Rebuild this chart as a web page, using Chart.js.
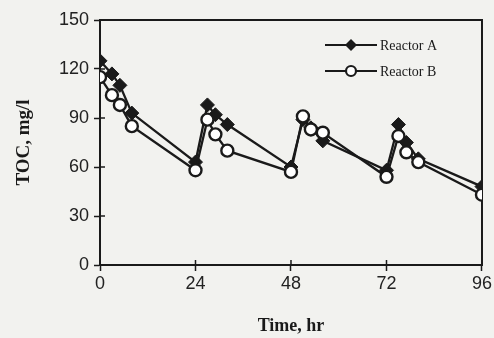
<!DOCTYPE html>
<html>
<head>
<meta charset="utf-8">
<script src="https://cdn.jsdelivr.net/npm/chart.js@4.4.0/dist/chart.umd.min.js"></script>
<style>
  html, body { margin: 0; padding: 0; background: #f2f2ef; }
  #wrap { width: 494px; height: 338px; position: relative; }
</style>
</head>
<body>
<div id="wrap"><canvas id="c" width="494" height="338"></canvas></div>
<script>
// ---- data ----
const times = [0, 3, 5, 8, 24, 27, 29, 32, 48, 51, 53, 56, 72, 75, 77, 80, 96];
const reactorA = [125, 117, 110, 93, 63, 98, 92, 86, 60, 89, 84, 76, 58, 86, 75, 65, 48];
const reactorB = [115, 104, 98, 85, 58, 89, 80, 70, 57, 91, 83, 81, 54, 79, 69, 63, 43];
const seriesNames = ['Reactor A', 'Reactor B'];
const xTicks = [0, 24, 48, 72, 96];
const yTicks = [0, 30, 60, 90, 120, 150];

const ink = '#1a1a1a';
const paper = '#f2f2ef';

function pts(xs, ys) { return xs.map((x, i) => ({ x: x, y: ys[i] })); }

const framePlugin = {
  id: 'frame',
  beforeDatasetsDraw(chart) {
    const { ctx, chartArea: a, scales } = chart;
    ctx.save();
    ctx.strokeStyle = ink;
    ctx.lineWidth = 2;
    ctx.strokeRect(a.left, a.top, a.right - a.left, a.bottom - a.top);
    ctx.lineWidth = 1.5;
    // inward tick marks
    yTicks.forEach(v => {
      const y = scales.y.getPixelForValue(v);
      ctx.beginPath(); ctx.moveTo(a.left, y); ctx.lineTo(a.left + 5, y); ctx.stroke();
    });
    xTicks.forEach(v => {
      const x = scales.x.getPixelForValue(v);
      ctx.beginPath(); ctx.moveTo(x, a.bottom); ctx.lineTo(x, a.bottom - 5); ctx.stroke();
    });
    ctx.restore();
  }
};

const legendPlugin = {
  id: 'customLegend',
  afterDraw(chart) {
    const { ctx } = chart;
    ctx.save();
    const rows = [{ y: 45, ds: chart.data.datasets[0] }, { y: 71, ds: chart.data.datasets[1] }];
    rows.forEach(r => {
      ctx.strokeStyle = ink;
      ctx.lineWidth = 2.2;
      ctx.beginPath(); ctx.moveTo(325, r.y); ctx.lineTo(377, r.y); ctx.stroke();
      const cx = 351;
      if (r.ds.pointStyle === 'rectRot') {
        const s = 6;
        ctx.fillStyle = ink;
        ctx.beginPath();
        ctx.moveTo(cx, r.y - s); ctx.lineTo(cx + s, r.y); ctx.lineTo(cx, r.y + s); ctx.lineTo(cx - s, r.y);
        ctx.closePath(); ctx.fill();
      } else {
        ctx.fillStyle = '#ffffff';
        ctx.beginPath(); ctx.arc(cx, r.y, 5, 0, Math.PI * 2); ctx.fill(); ctx.stroke();
      }
      ctx.fillStyle = ink;
      ctx.font = '14px "Liberation Serif", "Times New Roman", serif';
      ctx.textBaseline = 'middle';
      ctx.textAlign = 'left';
      ctx.fillText(r.ds.label, 380, r.y + 1);
    });
    ctx.restore();
  }
};

const bgPlugin = {
  id: 'bg',
  beforeDraw(chart) {
    const { ctx, width, height } = chart;
    ctx.save(); ctx.fillStyle = paper; ctx.fillRect(0, 0, width, height); ctx.restore();
  }
};

new Chart(document.getElementById('c'), {
  type: 'line',
  data: {
    datasets: [
      {
        label: seriesNames[0],
        data: pts(times, reactorA),
        borderColor: ink, borderWidth: 2.3,
        pointStyle: 'rectRot', pointRadius: 7,
        pointBackgroundColor: ink, pointBorderColor: ink, pointBorderWidth: 1,
        tension: 0, order: 2
      },
      {
        label: seriesNames[1],
        data: pts(times, reactorB),
        borderColor: ink, borderWidth: 2.3,
        pointStyle: 'circle', pointRadius: 6,
        pointBackgroundColor: '#ffffff', pointBorderColor: ink, pointBorderWidth: 2.4,
        tension: 0, order: 1
      }
    ]
  },
  options: {
    responsive: false,
    animation: false,
    devicePixelRatio: 1,
    layout: { padding: { top: 20, right: 12, left: 0, bottom: 0 } },
    plugins: { legend: { display: false }, tooltip: { enabled: false } },
    scales: {
      x: {
        type: 'linear', min: 0, max: 96,
        afterFit(s) { s.height = 73; },
        afterBuildTicks(s) { s.ticks = xTicks.map(v => ({ value: v })); },
        ticks: { color: '#222', padding: 2, font: { family: '"Liberation Sans", Arial, sans-serif', size: 18 } },
        grid: { display: true, drawOnChartArea: false, drawTicks: true, tickLength: 6, tickColor: ink, tickWidth: 1.5 },
        border: { display: true, color: ink, width: 2 },
        title: { display: true, text: 'Time, hr', color: ink, padding: { top: 0, bottom: 1 },
                 font: { family: '"Liberation Serif", "Times New Roman", serif', size: 18, weight: 'bold' } }
      },
      y: {
        type: 'linear', min: 0, max: 150,
        afterFit(s) { s.width = 100; },
        afterBuildTicks(s) { s.ticks = yTicks.map(v => ({ value: v })); },
        ticks: { color: '#222', padding: 5, font: { family: '"Liberation Sans", Arial, sans-serif', size: 18 } },
        grid: { display: true, drawOnChartArea: false, drawTicks: true, tickLength: 6, tickColor: ink, tickWidth: 1.5 },
        border: { display: true, color: ink, width: 2 },
        title: { display: true, text: 'TOC, mg/l', color: ink, padding: { top: 13, bottom: 0 },
                 font: { family: '"Liberation Serif", "Times New Roman", serif', size: 19, weight: 'bold' } }
      }
    }
  },
  plugins: [bgPlugin, framePlugin, legendPlugin]
});
</script>
</body>
</html>
